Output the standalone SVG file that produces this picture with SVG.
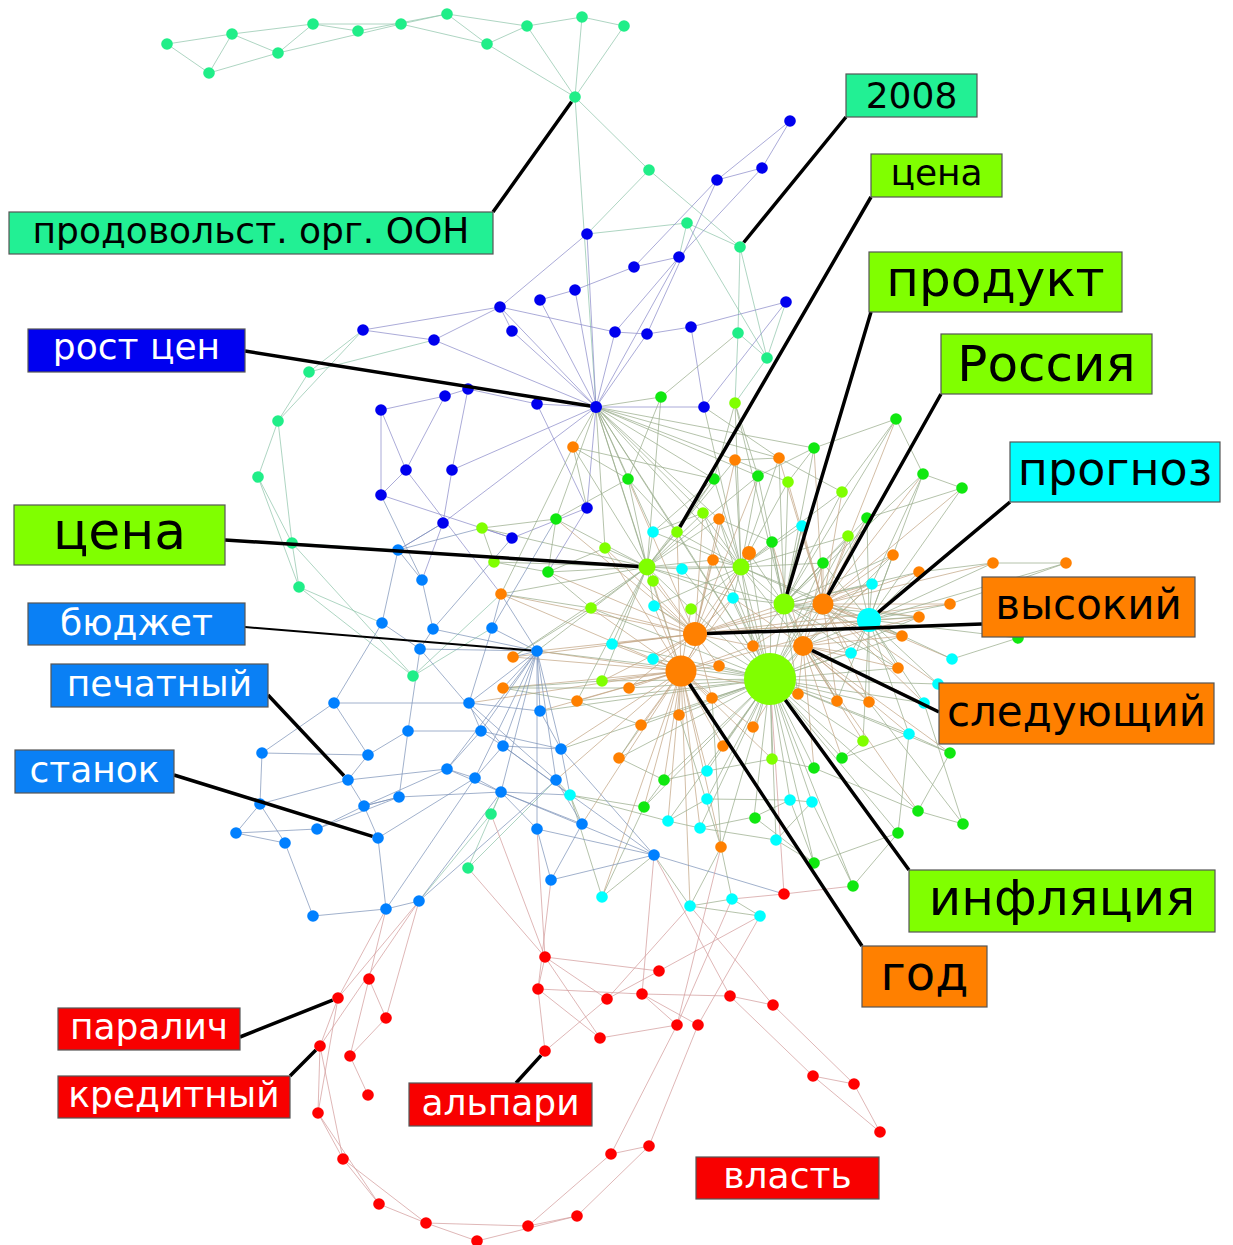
<svg xmlns="http://www.w3.org/2000/svg" width="1233" height="1245" viewBox="0 0 1233 1245">
<style>
.e{fill:none;stroke-width:0.9;opacity:0.8}
.et{stroke:#8ec5aa}.eb{stroke:#8a8ac8}.ec{stroke:#98ab8a}.eo{stroke:#c2a483}.em{stroke:#7c93b8}.er{stroke:#d39a9a}
.ld{stroke:#000;stroke-width:3.5;fill:none}
.t circle{fill:#20ee88}.b circle{fill:#0000ee}.l circle{fill:#80ff00}.g circle{fill:#10e810}.c circle{fill:#00ffff}.o circle{fill:#ff8000}.m circle{fill:#0080ff}.r circle{fill:#ff0000}
.lb rect{stroke:#555;stroke-width:1.2}
.lb text{font-family:"DejaVu Sans","Noto Sans",sans-serif;text-anchor:middle}
.bk{fill:#000}.wh{fill:#fff}
</style>
<rect width="1233" height="1245" fill="#fff"/>
<g id="connectors">
<path class="e et" d="M167 44L232 34M167 44L209 73M232 34L209 73M232 34L278 53M209 73L278 53M232 34L313 24M278 53L313 24M278 53L401 24M313 24L358 31M313 24L401 24M358 31L447 14M401 24L447 14M401 24L487 44M447 14L487 44M447 14L527 26M487 44L527 26M527 26L582 17M582 17L624 26M487 44L575 97M527 26L575 97M582 17L575 97M624 26L575 97M575 97L649 170M575 97L596 407M649 170L740 247M649 170L587 234M587 234L687 223M687 223L740 247M687 223L767 358M687 223L679 257M740 247L738 333M740 247L767 358M738 333L767 358M786 302L767 358M767 358L735 403M738 333L735 403M363 330L309 372M434 340L309 372M309 372L278 421M363 330L278 421M278 421L258 477M278 421L292 543M258 477L292 543M258 477L299 587M292 543L299 587M292 543L413 676M299 587L413 676M292 543L398 550M299 587L382 623M413 676L501 594M413 676L492 628M491 814L501 792M491 814L419 901M468 868L501 792M468 868L556 780"/>
<path class="e eb" d="M790 121L762 168M790 121L717 180M762 168L717 180M762 168L679 257M717 180L634 267M717 180L647 334M679 257L634 267M634 267L575 290M575 290L540 300M587 234L500 307M500 307L512 331M500 307L363 330M500 307L434 340M363 330L434 340M500 307L615 332M615 332L647 334M647 334L691 327M691 327L786 302M679 257L615 332M596 407L500 307M596 407L512 331M596 407L540 300M596 407L575 290M596 407L615 332M596 407L647 334M596 407L434 340M596 407L537 404M596 407L679 257M596 407L704 407M596 407L587 508M596 407L452 470M596 407L443 523M596 407L587 234M691 327L704 407M786 302L704 407M537 404L468 389M537 404L587 508M468 389L445 396M445 396L381 410M381 410L381 495M381 410L406 470M445 396L406 470M468 389L452 470M381 495L406 470M452 470L443 523M587 508L512 538M406 470L501 594M381 495L512 538M443 523L398 550M443 523L422 580M512 538L482 528M587 508L548 572"/>
<path class="e ec" d="M596 407L573 447M596 407L661 397M596 407L735 460M596 407L714 479M596 407L758 476M596 407L628 479M596 407L677 532M596 407L653 532M596 407L647 567M596 407L741 567M596 407L779 458M596 407L814 448M596 407L605 548M596 407L703 513M596 407L719 519M596 407L681 671M596 407L770 679M596 407L556 519M704 407L741 567M704 407L779 458"/>
<path class="e ec" d="M770 679L602 681M770 679L629 688M770 679L577 701M770 679L641 725M770 679L679 715M770 679L712 698M770 679L723 746M770 679L753 727M770 679L772 759M770 679L814 768M770 679L842 758M770 679L863 741M770 679L798 694M770 679L837 701M770 679L869 702M770 679L909 734M770 679L924 703M770 679L938 684M770 679L898 668M770 679L919 617M770 679L902 636M770 679L851 653M770 679L823 604M770 679L741 567M770 679L749 553M770 679L733 598M770 679L691 609M770 679L719 666M770 679L653 659M770 679L654 606M770 679L612 644M770 679L707 771M770 679L707 799M770 679L790 800M770 679L812 802M770 679L754 817M770 679L776 840M770 679L721 847M770 679L668 821M770 679L700 828M770 679L644 807M770 679L664 780M770 679L814 863M770 679L853 886M770 679L898 833M770 679L918 811M770 679L950 753M770 679L872 584M770 679L893 555M770 679L848 536M770 679L867 518M770 679L823 563M770 679L802 526M770 679L772 542M770 679L713 560M770 679L719 519M770 679L703 513M770 679L677 532M770 679L682 569M770 679L591 608M770 679L537 651M770 679L540 711M770 679L561 749M770 679L619 758"/>
<path class="e eo" d="M681 671L537 651M681 671L513 657M681 671L503 688M681 671L501 594M681 671L591 608M681 671L602 681M681 671L577 701M681 671L629 688M681 671L641 725M681 671L619 758M681 671L679 715M681 671L712 698M681 671L719 666M681 671L723 746M681 671L653 659M681 671L612 644M681 671L654 606M681 671L653 581M681 671L605 548M681 671L677 532M681 671L741 567M681 671L749 553M681 671L733 598M681 671L691 609M681 671L753 646M681 671L664 780M681 671L707 771M681 671L668 821M681 671L700 828M681 671L721 847M681 671L644 807M681 671L561 749M681 671L540 711M681 671L469 703M681 671L602 897M681 671L690 906M681 671L556 780M681 671L582 824M681 671L798 694M681 671L772 759M681 671L753 727M681 671L869 620"/>
<path class="e eo" d="M695 634L647 567M695 634L653 581M695 634L605 548M695 634L591 608M695 634L612 644M695 634L654 606M695 634L733 598M695 634L713 560M695 634L749 553M695 634L784 604M695 634L823 604M695 634L869 620M695 634L919 617M695 634L950 604M695 634L872 584M695 634L753 646M695 634L719 666M695 634L712 698M695 634L653 659M695 634L629 688M695 634L602 681M695 634L537 651M695 634L513 657M695 634L501 594M695 634L548 572M695 634L556 519M695 634L703 513M695 634L719 519M695 634L735 460M695 634L628 479M695 634L758 476"/>
<path class="e ec" d="M647 567L628 479M647 567L605 548M647 567L548 572M647 567L556 519M647 567L494 562M647 567L482 528M647 567L653 532M647 567L677 532M647 567L682 569M647 567L591 608M647 567L654 606M647 567L612 644M647 567L713 560M647 567L741 567M647 567L703 513M647 567L719 519M647 567L735 460M647 567L714 479M647 567L661 397M647 567L758 476M647 567L784 604M647 567L501 594M647 567L537 651M647 567L513 657M647 567L733 598M647 567L691 609M647 567L602 681M647 567L577 701M647 567L573 447"/>
<path class="e ec" d="M741 567L735 460M741 567L714 479M741 567L758 476M741 567L779 458M741 567L788 482M741 567L772 542M741 567L749 553M741 567L713 560M741 567L719 519M741 567L703 513M741 567L677 532M741 567L653 532M741 567L682 569M741 567L733 598M741 567L784 604M741 567L823 604M741 567L802 526M741 567L823 563M741 567L848 536M741 567L842 492M741 567L869 620M741 567L803 646M741 567L753 646M741 567L691 609M741 567L654 606M741 567L735 403"/>
<path class="e ec" d="M784 604L758 476M784 604L788 482M784 604L779 458M784 604L842 492M784 604L814 448M784 604L823 563M784 604L802 526M784 604L772 542M784 604L749 553M784 604L848 536M784 604L867 518M784 604L872 584M784 604L893 555M784 604L919 572M784 604L823 604M784 604L869 620M784 604L851 653M784 604L898 668M784 604L902 636M784 604L919 617M784 604L803 646M784 604L753 646M784 604L733 598M784 604L798 694M784 604L837 701M784 604L896 419M784 604L923 474M784 604L735 403"/>
<path class="e eo" d="M823 604L823 563M823 604L848 536M823 604L867 518M823 604L842 492M823 604L896 419M823 604L923 474M823 604L962 488M823 604L893 555M823 604L919 572M823 604L993 563M823 604L950 604M823 604L919 617M823 604L902 636M823 604L872 584M823 604L869 620M823 604L851 653M823 604L898 668M823 604L952 659M823 604L938 684M823 604L924 703M823 604L869 702M823 604L837 701M823 604L803 646M823 604L802 526M823 604L788 482M823 604L814 448M823 604L779 458M823 604L753 646"/>
<path class="e ec" d="M869 620L872 584M869 620L893 555M869 620L919 572M869 620L950 604M869 620L919 617M869 620L902 636M869 620L952 659M869 620L898 668M869 620L938 684M869 620L924 703M869 620L909 734M869 620L851 653M869 620L869 702M869 620L837 701M869 620L863 741M869 620L848 536M869 620L867 518M869 620L823 563M869 620L993 563M869 620L1018 638M869 620L962 488M869 620L923 474M869 620L803 646M869 620L1066 563"/>
<path class="e eo" d="M803 646L851 653M803 646L898 668M803 646L902 636M803 646L919 617M803 646L872 584M803 646L837 701M803 646L869 702M803 646L924 703M803 646L909 734M803 646L863 741M803 646L842 758M803 646L814 768M803 646L798 694M803 646L753 727M803 646L753 646M803 646L823 563M803 646L772 542M803 646L733 598M803 646L950 753M803 646L918 811"/>
<path class="e ec" d="M993 563L1066 563M950 604L1066 563M919 572L993 563M962 488L923 474M923 474L896 419M896 419L814 448M896 419L842 492M962 488L867 518M923 474L872 584M952 659L1018 638M950 753L918 811M950 753L909 734M918 811L963 824M963 824L869 702M918 811L814 768M898 833L853 886M898 833L814 863M898 833L909 734M814 863L776 840M814 863L754 817M963 824L924 703M842 758L863 741M842 758L909 734M814 768L772 759M779 458L735 460M735 460L788 482M779 458L842 492M661 397L628 479M661 397L738 333M735 403L714 479M735 403L758 476M814 448L758 476M814 448L788 482M628 479L556 519M628 479L677 532M714 479L677 532M714 479L653 532M703 513L653 532M719 519L772 542M556 519L482 528M482 528L494 562M494 562L548 572M556 519L548 572M605 548L548 572M548 572L591 608M591 608L501 594M591 608L513 657M602 681L503 688M503 688L577 701M503 688L629 688M577 701L641 725M641 725L619 758M619 758L664 780M679 715L721 847M712 698L721 847M573 447L587 508M573 447L714 479M573 447L501 594M573 447L628 479M707 799L790 800M790 800L812 802M707 799L668 821M668 821L700 828M700 828L776 840M754 817L700 828M754 817L790 800M776 840L812 802M721 847L690 906M721 847L732 899M690 906L732 899M690 906L760 916M732 899L760 916M570 795L582 824M570 795L556 780M570 795L668 821M570 795L644 807M644 807L664 780M664 780L707 771M707 771L772 759M602 897L570 795M602 897L654 855M654 855L690 906M644 807L602 897M812 802L853 886M790 800L814 863"/>
<path class="e em" d="M537 651L492 628M537 651L420 649M537 651L469 703M537 651L481 731M537 651L503 746M537 651L540 711M537 651L561 749M537 651L501 792M537 651L475 778M537 651L447 769M537 651L433 629M537 651L513 657M537 651L503 688M537 651L501 594M537 651L556 780M537 651L537 829M398 550L382 623M398 550L422 580M398 550L443 523M398 550L482 528M422 580L433 629M422 580L381 495M382 623L420 649M382 623L334 703M420 649L433 629M420 649L408 731M420 649L503 746M492 628L469 703M492 628L501 594M492 628L556 519M433 629L512 538M469 703L334 703M469 703L481 731M469 703L540 711M469 703L556 780M408 731L368 755M408 731L399 797M408 731L481 731M481 731L503 746M481 731L447 769M481 731L561 749M503 746L561 749M503 746L475 778M503 746L654 855M503 746L570 795M540 711L561 749M447 769L475 778M447 769L364 806M447 769L501 792M475 778L501 792M475 778L378 838M501 792L399 797M501 792L582 824M501 792L537 829M501 792L654 855M501 792L570 795M556 780L582 824M561 749L570 795M561 749L654 855M399 797L364 806M537 829L551 880M582 824L551 880M537 829L654 855M551 880L654 855M334 703L262 753M334 703L368 755M262 753L260 804M262 753L368 755M368 755L348 780M348 780L364 806M348 780L260 804M348 780L447 769M260 804L236 833M260 804L285 843M236 833L285 843M236 833L317 829M317 829L364 806M364 806L378 838M364 806L399 797M285 843L313 916M313 916L386 909M386 909L419 901M386 909L378 838M419 901L501 792M419 901L556 780M386 909L475 778M317 829L399 797M654 855L784 894"/>
<path class="e er" d="M386 909L338 998M386 909L369 979M419 901L338 998M419 901L386 1018M419 901L320 1046M369 979L386 1018M386 1018L350 1056M350 1056L368 1095M369 979L350 1056M338 998L320 1046M320 1046L318 1113M338 998L318 1113M318 1113L343 1159M320 1046L343 1159M343 1159L379 1204M318 1113L379 1204M379 1204L426 1223M343 1159L426 1223M426 1223L477 1241M426 1223L528 1226M477 1241L577 1216M528 1226L611 1154M577 1216L649 1146M611 1154L649 1146M528 1226L577 1216M611 1154L677 1025M649 1146L698 1025M545 957L659 971M545 957L538 989M545 957L607 999M545 957L600 1038M538 989L545 1051M538 989L642 994M538 989L600 1038M642 994L730 996M642 994L677 1025M642 994L698 1025M607 999L659 971M545 1051L607 999M600 1038L677 1025M730 996L773 1005M730 996L813 1076M773 1005L854 1084M813 1076L854 1084M813 1076L880 1132M854 1084L880 1132M545 957L491 814M545 957L468 868M659 971L760 916M607 999L690 906M642 994L654 855M677 1025L732 899M698 1025L760 916M677 1025L721 847M730 996L654 855M773 1005L690 906M784 894L732 899M784 894L853 886M784 894L770 679M545 957L537 829M538 989L551 880"/>
</g>
<g id="nodes">
<g class="t" id="cluster-teal">
<circle id="t1" cx="167" cy="44" r="5.8"/><circle id="t2" cx="232" cy="34" r="5.8"/><circle id="t3" cx="209" cy="73" r="5.8"/><circle id="t4" cx="278" cy="53" r="5.8"/><circle id="t5" cx="313" cy="24" r="5.8"/><circle id="t6" cx="358" cy="31" r="5.8"/><circle id="t7" cx="401" cy="24" r="5.8"/><circle id="t8" cx="447" cy="14" r="5.8"/><circle id="t9" cx="487" cy="44" r="5.8"/><circle id="t10" cx="527" cy="26" r="5.8"/><circle id="t11" cx="582" cy="17" r="5.8"/><circle id="t12" cx="624" cy="26" r="5.8"/><circle id="t-oon" cx="575" cy="97" r="5.8"/><circle id="t14" cx="649" cy="170" r="5.8"/><circle id="t15" cx="687" cy="223" r="5.8"/><circle id="t-2008" cx="740" cy="247" r="5.8"/><circle id="t17" cx="738" cy="333" r="5.8"/><circle id="t18" cx="767" cy="358" r="5.8"/><circle id="t19" cx="309" cy="372" r="5.8"/><circle id="t20" cx="278" cy="421" r="5.8"/><circle id="t21" cx="258" cy="477" r="5.8"/><circle id="t22" cx="292" cy="543" r="5.8"/><circle id="t23" cx="299" cy="587" r="5.8"/><circle id="t24" cx="413" cy="676" r="5.8"/><circle id="t25" cx="491" cy="814" r="5.8"/><circle id="t26" cx="468" cy="868" r="5.8"/>
</g>
<g class="b" id="cluster-blue">
<circle id="b1" cx="790" cy="121" r="5.8"/><circle id="b2" cx="762" cy="168" r="5.8"/><circle id="b3" cx="717" cy="180" r="5.8"/><circle id="b4" cx="587" cy="234" r="5.8"/><circle id="b5" cx="679" cy="257" r="5.8"/><circle id="b6" cx="634" cy="267" r="5.8"/><circle id="b7" cx="575" cy="290" r="5.8"/><circle id="b8" cx="540" cy="300" r="5.8"/><circle id="b9" cx="500" cy="307" r="5.8"/><circle id="b10" cx="512" cy="331" r="5.8"/><circle id="b11" cx="615" cy="332" r="5.8"/><circle id="b12" cx="647" cy="334" r="5.8"/><circle id="b13" cx="691" cy="327" r="5.8"/><circle id="b14" cx="786" cy="302" r="5.8"/><circle id="b15" cx="363" cy="330" r="5.8"/><circle id="b16" cx="434" cy="340" r="5.8"/><circle id="b-rost" cx="596" cy="407" r="6"/><circle id="b18" cx="704" cy="407" r="5.8"/><circle id="b19" cx="537" cy="404" r="5.8"/><circle id="b20" cx="468" cy="389" r="5.8"/><circle id="b21" cx="445" cy="396" r="5.8"/><circle id="b22" cx="381" cy="410" r="5.8"/><circle id="b23" cx="406" cy="470" r="5.8"/><circle id="b24" cx="452" cy="470" r="5.8"/><circle id="b25" cx="381" cy="495" r="5.8"/><circle id="b26" cx="443" cy="523" r="5.8"/><circle id="b27" cx="512" cy="538" r="5.8"/><circle id="b28" cx="587" cy="508" r="5.8"/>
</g>
<g class="l" id="cluster-lime">
<circle id="l1" cx="735" cy="403" r="5.8"/><circle id="l2" cx="788" cy="482" r="5.8"/><circle id="l3" cx="842" cy="492" r="5.8"/><circle id="l4" cx="848" cy="536" r="5.8"/><circle id="l5" cx="703" cy="513" r="5.8"/><circle id="l-cena2" cx="677" cy="532" r="5.8"/><circle id="l7" cx="482" cy="528" r="5.8"/><circle id="l8" cx="605" cy="548" r="5.8"/><circle id="l9" cx="494" cy="562" r="5.8"/><circle id="l-cena" cx="647" cy="567" r="8.5"/><circle id="l11" cx="741" cy="567" r="8.5"/><circle id="l12" cx="653" cy="581" r="5.8"/><circle id="l13" cx="691" cy="609" r="5.8"/><circle id="l14" cx="591" cy="608" r="5.8"/><circle id="l15" cx="602" cy="681" r="5.8"/><circle id="l-produkt" cx="784" cy="604" r="10.5"/><circle id="l-infl" cx="770" cy="679" r="26"/><circle id="l18" cx="863" cy="741" r="5.8"/><circle id="l19" cx="772" cy="759" r="5.8"/>
</g>
<g class="g" id="cluster-green">
<circle id="g1" cx="661" cy="397" r="5.8"/><circle id="g2" cx="628" cy="479" r="5.8"/><circle id="g3" cx="714" cy="479" r="5.8"/><circle id="g4" cx="758" cy="476" r="5.8"/><circle id="g5" cx="814" cy="448" r="5.8"/><circle id="g6" cx="896" cy="419" r="5.8"/><circle id="g7" cx="923" cy="474" r="5.8"/><circle id="g8" cx="962" cy="488" r="5.8"/><circle id="g9" cx="867" cy="518" r="5.8"/><circle id="g10" cx="823" cy="563" r="5.8"/><circle id="g11" cx="772" cy="542" r="5.8"/><circle id="g12" cx="556" cy="519" r="5.8"/><circle id="g13" cx="548" cy="572" r="5.8"/><circle id="g14" cx="1018" cy="638" r="5.8"/><circle id="g15" cx="950" cy="753" r="5.8"/><circle id="g16" cx="842" cy="758" r="5.8"/><circle id="g17" cx="814" cy="768" r="5.8"/><circle id="g18" cx="918" cy="811" r="5.8"/><circle id="g19" cx="963" cy="824" r="5.8"/><circle id="g20" cx="898" cy="833" r="5.8"/><circle id="g21" cx="664" cy="780" r="5.8"/><circle id="g22" cx="644" cy="807" r="5.8"/><circle id="g23" cx="755" cy="818" r="5.8"/><circle id="g24" cx="814" cy="863" r="5.8"/><circle id="g25" cx="853" cy="886" r="5.8"/>
</g>
<g class="c" id="cluster-cyan">
<circle id="c1" cx="653" cy="532" r="5.8"/><circle id="c2" cx="682" cy="569" r="5.8"/><circle id="c3" cx="802" cy="526" r="5.8"/><circle id="c4" cx="733" cy="598" r="5.8"/><circle id="c5" cx="654" cy="606" r="5.8"/><circle id="c6" cx="612" cy="644" r="5.8"/><circle id="c7" cx="653" cy="659" r="5.8"/><circle id="c8" cx="872" cy="584" r="5.8"/><circle id="c-prognoz" cx="869" cy="620" r="12"/><circle id="c10" cx="851" cy="653" r="5.8"/><circle id="c11" cx="952" cy="659" r="5.8"/><circle id="c12" cx="938" cy="684" r="5.8"/><circle id="c13" cx="924" cy="703" r="5.8"/><circle id="c14" cx="909" cy="734" r="5.8"/><circle id="c15" cx="707" cy="771" r="5.8"/><circle id="c16" cx="570" cy="795" r="5.8"/><circle id="c17" cx="707" cy="799" r="5.8"/><circle id="c18" cx="790" cy="800" r="5.8"/><circle id="c19" cx="812" cy="802" r="5.8"/><circle id="c20" cx="668" cy="821" r="5.8"/><circle id="c21" cx="700" cy="828" r="5.8"/><circle id="c22" cx="776" cy="840" r="5.8"/><circle id="c23" cx="602" cy="897" r="5.8"/><circle id="c24" cx="690" cy="906" r="5.8"/><circle id="c25" cx="732" cy="899" r="5.8"/><circle id="c26" cx="760" cy="916" r="5.8"/>
</g>
<g class="o" id="cluster-orange">
<circle id="o1" cx="573" cy="447" r="5.8"/><circle id="o2" cx="735" cy="460" r="5.8"/><circle id="o3" cx="779" cy="458" r="5.8"/><circle id="o4" cx="719" cy="519" r="5.8"/><circle id="o5" cx="713" cy="560" r="5.8"/><circle id="o6" cx="749" cy="553" r="7"/><circle id="o7" cx="893" cy="555" r="5.8"/><circle id="o8" cx="919" cy="572" r="5.8"/><circle id="o9" cx="993" cy="563" r="5.8"/><circle id="o10" cx="1066" cy="563" r="5.8"/><circle id="o11" cx="950" cy="604" r="5.8"/><circle id="o12" cx="919" cy="617" r="5.8"/><circle id="o13" cx="902" cy="636" r="5.8"/><circle id="o-rossiya" cx="823" cy="604" r="10.5"/><circle id="o-vysokiy" cx="695" cy="634" r="12"/><circle id="o-sled" cx="803" cy="646" r="10"/><circle id="o17" cx="753" cy="646" r="5.8"/><circle id="o18" cx="898" cy="668" r="5.8"/><circle id="o19" cx="719" cy="666" r="5.8"/><circle id="o-god" cx="681" cy="671" r="15.5"/><circle id="o21" cx="501" cy="594" r="5.8"/><circle id="o22" cx="513" cy="657" r="5.8"/><circle id="o23" cx="503" cy="688" r="5.8"/><circle id="o24" cx="629" cy="688" r="5.8"/><circle id="o25" cx="577" cy="701" r="5.8"/><circle id="o26" cx="712" cy="698" r="5.8"/><circle id="o27" cx="798" cy="694" r="5.8"/><circle id="o28" cx="837" cy="701" r="5.8"/><circle id="o29" cx="869" cy="702" r="5.8"/><circle id="o30" cx="679" cy="715" r="5.8"/><circle id="o31" cx="641" cy="725" r="5.8"/><circle id="o32" cx="753" cy="727" r="5.8"/><circle id="o33" cx="723" cy="746" r="5.8"/><circle id="o34" cx="619" cy="758" r="5.8"/><circle id="o35" cx="721" cy="847" r="5.8"/>
</g>
<g class="m" id="cluster-mblue">
<circle id="m1" cx="398" cy="550" r="5.8"/><circle id="m2" cx="422" cy="580" r="5.8"/><circle id="m3" cx="382" cy="623" r="5.8"/><circle id="m4" cx="433" cy="629" r="5.8"/><circle id="m5" cx="492" cy="628" r="5.8"/><circle id="m6" cx="420" cy="649" r="5.8"/><circle id="m-budzhet" cx="537" cy="651" r="5.8"/><circle id="m8" cx="334" cy="703" r="5.8"/><circle id="m9" cx="469" cy="703" r="5.8"/><circle id="m10" cx="540" cy="711" r="5.8"/><circle id="m11" cx="408" cy="731" r="5.8"/><circle id="m12" cx="481" cy="731" r="5.8"/><circle id="m13" cx="503" cy="746" r="5.8"/><circle id="m14" cx="561" cy="749" r="5.8"/><circle id="m15" cx="262" cy="753" r="5.8"/><circle id="m16" cx="368" cy="755" r="5.8"/><circle id="m-pechat" cx="348" cy="780" r="5.8"/><circle id="m18" cx="447" cy="769" r="5.8"/><circle id="m19" cx="475" cy="778" r="5.8"/><circle id="m20" cx="556" cy="780" r="5.8"/><circle id="m21" cx="260" cy="804" r="5.8"/><circle id="m22" cx="364" cy="806" r="5.8"/><circle id="m23" cx="399" cy="797" r="5.8"/><circle id="m24" cx="501" cy="792" r="5.8"/><circle id="m25" cx="236" cy="833" r="5.8"/><circle id="m26" cx="285" cy="843" r="5.8"/><circle id="m27" cx="317" cy="829" r="5.8"/><circle id="m-stanok" cx="378" cy="838" r="5.8"/><circle id="m29" cx="537" cy="829" r="5.8"/><circle id="m30" cx="582" cy="824" r="5.8"/><circle id="m31" cx="551" cy="880" r="5.8"/><circle id="m32" cx="654" cy="855" r="5.8"/><circle id="m33" cx="313" cy="916" r="5.8"/><circle id="m34" cx="386" cy="909" r="5.8"/><circle id="m35" cx="419" cy="901" r="5.8"/>
</g>
<g class="r" id="cluster-red">
<circle id="r1" cx="784" cy="894" r="5.8"/><circle id="r2" cx="545" cy="957" r="5.8"/><circle id="r3" cx="659" cy="971" r="5.8"/><circle id="r4" cx="538" cy="989" r="5.8"/><circle id="r5" cx="607" cy="999" r="5.8"/><circle id="r6" cx="642" cy="994" r="5.8"/><circle id="r7" cx="730" cy="996" r="5.8"/><circle id="r8" cx="773" cy="1005" r="5.8"/><circle id="r9" cx="677" cy="1025" r="5.8"/><circle id="r10" cx="698" cy="1025" r="5.8"/><circle id="r11" cx="600" cy="1038" r="5.8"/><circle id="r-alpari" cx="545" cy="1051" r="5.8"/><circle id="r13" cx="369" cy="979" r="5.8"/><circle id="r-paralich" cx="338" cy="998" r="5.8"/><circle id="r15" cx="386" cy="1018" r="5.8"/><circle id="r-kredit" cx="320" cy="1046" r="5.8"/><circle id="r17" cx="350" cy="1056" r="5.8"/><circle id="r18" cx="368" cy="1095" r="5.8"/><circle id="r19" cx="318" cy="1113" r="5.8"/><circle id="r20" cx="813" cy="1076" r="5.8"/><circle id="r21" cx="854" cy="1084" r="5.8"/><circle id="r22" cx="880" cy="1132" r="5.8"/><circle id="r23" cx="343" cy="1159" r="5.8"/><circle id="r24" cx="611" cy="1154" r="5.8"/><circle id="r25" cx="649" cy="1146" r="5.8"/><circle id="r26" cx="379" cy="1204" r="5.8"/><circle id="r27" cx="426" cy="1223" r="5.8"/><circle id="r28" cx="528" cy="1226" r="5.8"/><circle id="r29" cx="577" cy="1216" r="5.8"/><circle id="r30" cx="477" cy="1241" r="5.8"/>
</g>
</g>
<g id="leaders">
<path class="ld" d="M493 212L571.6 101.7M846 117L743.7 242.5M871 197L679.9 527M871 312L787 594M941 394L828.1 594.8M1010 502L878.2 612.3M225 540L638.5 566.5M245 351L590.3 406.1M268 695L344 775.8M174 775L372.5 836.3M982 624L707 633.6M939 712L812 650.4M909 870L785.3 700M862 946L689.5 684M240 1037L332.6 1000.1M290 1076L315.9 1050.1M516 1083L541.1 1055.3"/>
<path d="M245 627L531.2 650.5" stroke="#000" stroke-width="2" fill="none"/>
</g>
<g id="labels">
<g class="lb" id="lbl-oon"><rect x="9" y="212" width="484" height="42" fill="#22f094"/><text class="bk" x="251" y="243" font-size="36">продовольст. орг. ООН</text></g>
<g class="lb" id="lbl-2008"><rect x="846" y="74" width="131" height="43" fill="#22f094"/><text class="bk" x="911.5" y="108" font-size="36">2008</text></g>
<g class="lb" id="lbl-cena-s"><rect x="871" y="154" width="131" height="43" fill="#80ff00"/><text class="bk" x="936.5" y="185" font-size="36">цена</text></g>
<g class="lb" id="lbl-produkt"><rect x="869" y="252" width="253" height="60" fill="#80ff00"/><text class="bk" x="995.5" y="296" font-size="50">продукт</text></g>
<g class="lb" id="lbl-rossiya"><rect x="941" y="334" width="211" height="60" fill="#80ff00"/><text class="bk" x="1046.5" y="381" font-size="50">Россия</text></g>
<g class="lb" id="lbl-prognoz"><rect x="1010" y="442" width="210" height="60" fill="#00ffff"/><text class="bk" x="1115" y="485" font-size="46">прогноз</text></g>
<g class="lb" id="lbl-cena"><rect x="14" y="505" width="211" height="60" fill="#80ff00"/><text class="bk" x="119.5" y="549" font-size="52">цена</text></g>
<g class="lb" id="lbl-rost"><rect x="28" y="329" width="217" height="43" fill="#0000f0"/><text class="wh" x="136.5" y="359" font-size="36">рост цен</text></g>
<g class="lb" id="lbl-budzhet"><rect x="28" y="603" width="217" height="42" fill="#0a80f5"/><text class="wh" x="136.5" y="635" font-size="36">бюджет</text></g>
<g class="lb" id="lbl-pechat"><rect x="51" y="664" width="217" height="43" fill="#0a80f5"/><text class="wh" x="159.5" y="696" font-size="36">печатный</text></g>
<g class="lb" id="lbl-stanok"><rect x="15" y="750" width="159" height="43" fill="#0a80f5"/><text class="wh" x="94.5" y="782" font-size="36">станок</text></g>
<g class="lb" id="lbl-vysokiy"><rect x="982" y="577" width="213" height="60" fill="#ff8000"/><text class="bk" x="1088.5" y="619" font-size="42">высокий</text></g>
<g class="lb" id="lbl-sled"><rect x="939" y="683" width="275" height="61" fill="#ff8000"/><text class="bk" x="1076.5" y="726" font-size="42">следующий</text></g>
<g class="lb" id="lbl-infl"><rect x="909" y="870" width="306" height="62" fill="#80ff00"/><text class="bk" x="1062" y="915" font-size="50">инфляция</text></g>
<g class="lb" id="lbl-god"><rect x="862" y="946" width="125" height="61" fill="#ff8000"/><text class="bk" x="924.5" y="990" font-size="48">год</text></g>
<g class="lb" id="lbl-paralich"><rect x="58" y="1008" width="182" height="42" fill="#f80000"/><text class="wh" x="149" y="1039" font-size="36">паралич</text></g>
<g class="lb" id="lbl-kredit"><rect x="58" y="1076" width="232" height="42" fill="#f80000"/><text class="wh" x="174" y="1107" font-size="36">кредитный</text></g>
<g class="lb" id="lbl-alpari"><rect x="409" y="1083" width="183" height="43" fill="#f80000"/><text class="wh" x="500.5" y="1115" font-size="36">альпари</text></g>
<g class="lb" id="lbl-vlast"><rect x="696" y="1157" width="183" height="42" fill="#f80000"/><text class="wh" x="787.5" y="1188" font-size="36">власть</text></g>
</g>
</svg>
